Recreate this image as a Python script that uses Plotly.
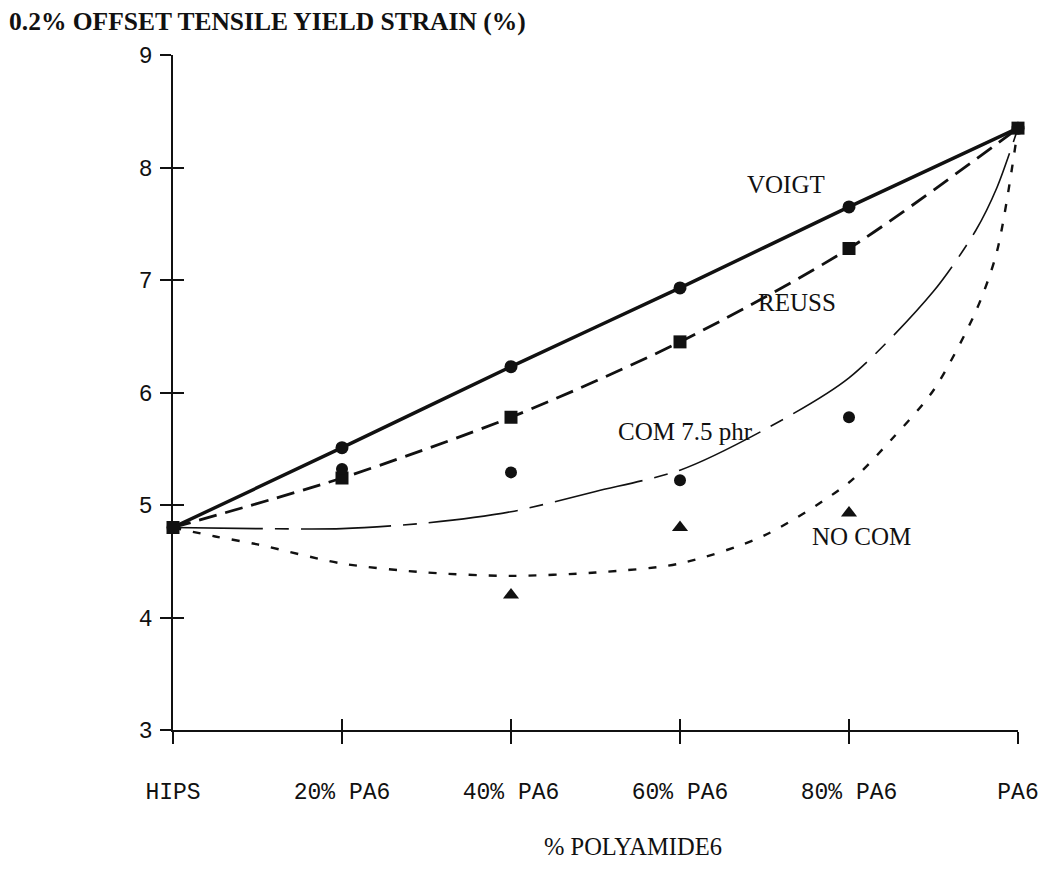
import plotly.graph_objects as go

# Blend composition (% polyamide 6 in HIPS)
pa6_pct = [0, 20, 40, 60, 80, 100]
tick_text = ["HIPS", "20% PA6", "40% PA6", "60% PA6", "80% PA6", "PA6"]
strain_ticks = [3, 4, 5, 6, 7, 8, 9]

# Upper / lower bound predictions at the blend compositions
voigt = [4.80, 5.51, 6.23, 6.93, 7.65, 8.35]
reuss = [4.80, 5.24, 5.78, 6.45, 7.28, 8.35]

# Measured yield strain
com_pct = [20, 40, 60, 80]
com_meas = [5.32, 5.29, 5.22, 5.78]
nocom_pct = [40, 60, 80]
nocom_meas = [4.20, 4.80, 4.93]

# Fitted curves
com_fit_pct = [0, 10, 20, 30, 40, 50, 60, 70, 80, 90, 95, 97.5, 100]
com_fit = [4.80, 4.79, 4.79, 4.84, 4.94, 5.12, 5.31, 5.67, 6.13, 6.90, 7.44, 7.82, 8.35]
nocom_fit_pct = [0, 5, 10, 20, 30, 40, 50, 60, 70, 80, 85, 90, 95, 97.5, 100]
nocom_fit = [4.80, 4.72, 4.65, 4.48, 4.40, 4.37, 4.40, 4.48, 4.73, 5.20, 5.58, 6.02, 6.72, 7.25, 8.35]

INK = "#111111"
SERIF = "Liberation Serif"
MONO = "Liberation Mono"

fig = go.Figure()

# NO COM fit: short dashes
fig.add_trace(go.Scatter(
    x=nocom_fit_pct, y=nocom_fit, mode="lines",
    line=dict(color=INK, width=2.4, dash="8px,12px", shape="spline", smoothing=0.8),
    cliponaxis=False, hoverinfo="skip"))
# COM 7.5 phr fit: thin long dash / short dash
fig.add_trace(go.Scatter(
    x=com_fit_pct, y=com_fit, mode="lines",
    line=dict(color=INK, width=1.6, dash="90px,12px,14px,12px", shape="spline", smoothing=0.8),
    cliponaxis=False, hoverinfo="skip"))
# Voigt bound: thick solid
fig.add_trace(go.Scatter(
    x=pa6_pct, y=voigt, mode="lines+markers",
    line=dict(color=INK, width=3.4, shape="spline", smoothing=0.6),
    marker=dict(symbol="circle", size=13, color=INK),
    cliponaxis=False, hoverinfo="skip"))
# Reuss bound: dashed with squares
fig.add_trace(go.Scatter(
    x=pa6_pct, y=reuss, mode="lines+markers",
    line=dict(color=INK, width=2.8, dash="18px,9px", shape="spline", smoothing=0.8),
    marker=dict(symbol="square", size=13, color=INK),
    cliponaxis=False, hoverinfo="skip"))
# Measured points (compatibilised)
fig.add_trace(go.Scatter(
    x=com_pct, y=com_meas, mode="markers",
    marker=dict(symbol="circle", size=12, color=INK),
    cliponaxis=False, hoverinfo="skip"))
# Measured points (uncompatibilised), on the companion axes that carry the inner tick halves
fig.add_trace(go.Scatter(
    x=nocom_pct, y=nocom_meas, mode="markers", xaxis="x2", yaxis="y2",
    marker=dict(symbol="triangle-up", size=14, color=INK),
    cliponaxis=False, hoverinfo="skip"))

# Curve labels
labels = [
    ("VOIGT", 72.5, 7.85),
    ("REUSS", 73.8, 6.80),
    ("COM 7.5 phr", 60.6, 5.65),
    ("NO COM", 81.5, 4.72),
]
for txt, lx, ly in labels:
    fig.add_annotation(x=lx, y=ly, text=txt, showarrow=False,
                       font=dict(family=SERIF, size=25, color=INK),
                       xanchor="center", yanchor="middle")

# Axis titles
fig.add_annotation(xref="paper", yref="paper", x=-0.197, y=1.05,
                   text="<b>0.2% OFFSET TENSILE YIELD STRAIN (%)</b>", showarrow=False,
                   font=dict(family=SERIF, size=25.5, color=INK),
                   xanchor="left", yanchor="middle")
fig.add_annotation(xref="paper", yref="paper", x=0.5445, y=-0.173,
                   text="% POLYAMIDE6", showarrow=False,
                   font=dict(family=SERIF, size=24.5, color=INK),
                   xanchor="center", yanchor="middle")

axis_common = dict(showgrid=False, zeroline=False, tickcolor=INK, tickwidth=1.5)

fig.update_layout(
    width=1051, height=885,
    margin=dict(l=173, r=24, t=55, b=155),
    paper_bgcolor="white", plot_bgcolor="white",
    showlegend=False,
    xaxis=dict(range=[0, 100], tickvals=pa6_pct, ticktext=tick_text,
               ticks="outside", ticklen=12, showline=True, linecolor=INK, linewidth=1.8,
               tickfont=dict(family=MONO, size=23, color=INK), ticklabelstandoff=27,
               **axis_common),
    yaxis=dict(range=[3, 9], tickvals=strain_ticks,
               ticks="outside", ticklen=11, showline=True, linecolor=INK, linewidth=1.8,
               tickfont=dict(family=MONO, size=23, color=INK), ticklabelstandoff=3,
               **axis_common),
    xaxis2=dict(range=[0, 100], tickvals=pa6_pct, overlaying="x", anchor="y2",
                ticks="inside", ticklen=11, showticklabels=False, showline=False,
                **axis_common),
    yaxis2=dict(range=[3, 9], tickvals=strain_ticks, overlaying="y", anchor="x2",
                side="left", ticks="inside", ticklen=11, showticklabels=False, showline=False,
                **axis_common),
)

fig.write_html("out.html")
